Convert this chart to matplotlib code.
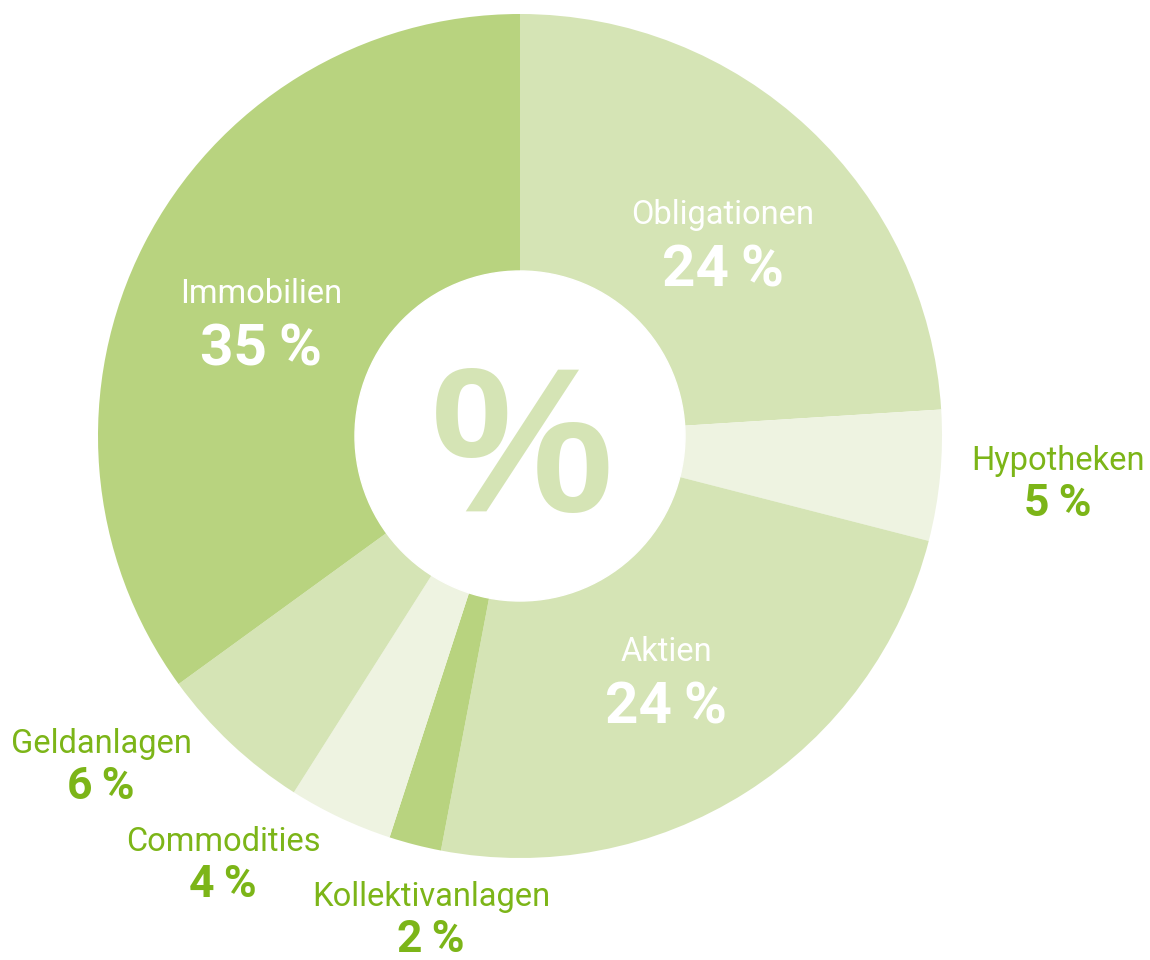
import matplotlib.pyplot as plt
from matplotlib.patches import Circle

# asset allocation shares, clockwise from 12 o'clock
labels = ['Obligationen', 'Hypotheken', 'Aktien', 'Kollektivanlagen',
          'Commodities', 'Geldanlagen', 'Immobilien']
values = [24, 5, 24, 2, 4, 6, 35]
colors = ['#d5e4b5', '#eef3e1', '#d5e4b5', '#b8d37f',
          '#eef3e1', '#d5e4b5', '#b8d37f']
inside = [True, False, True, False, False, False, True]

# label anchor points in image pixels (name line)
label_pos = [(723, 215), (1058, 461), (666, 652), (431, 897),
             (223, 842), (101, 744), (261, 294)]

green = '#7cb518'
W, H = 1150, 960

fig = plt.figure(figsize=(W / 100, H / 100), dpi=100)
ax = fig.add_axes([0, 0, 1, 1])

cx, cy, r = 520, H - 436, 422
ax.pie(values, colors=colors, startangle=90, counterclock=False,
       center=(cx, cy), radius=r, frame=True,
       wedgeprops=dict(linewidth=0))
ax.set_xlim(0, W)
ax.set_ylim(0, H)
ax.set_aspect('equal')
ax.axis('off')
ax.add_patch(Circle((cx, cy), 165, color='white', zorder=3))
ax.text(cx + 2, cy - 22, '%', ha='center', va='center', fontsize=148,
        fontweight='bold', family='Liberation Sans', color='#d5e4b5', zorder=4)

for name, v, ins, (px, py) in zip(labels, values, inside, label_pos):
    col = 'white' if ins else green
    big = 42 if ins else 32
    gap = 56 if ins else 43
    ax.text(px, H - py, name, ha='center', va='center', fontsize=23.5,
            family='Roboto', color=col, zorder=5)
    ax.text(px, H - py - gap, f'{v}\u2009%', ha='center', va='center',
            fontsize=big, fontweight='bold', family=['Roboto', 'DejaVu Sans'],
            color=col, zorder=5)

fig.savefig('out.png', dpi=100, facecolor='white')
